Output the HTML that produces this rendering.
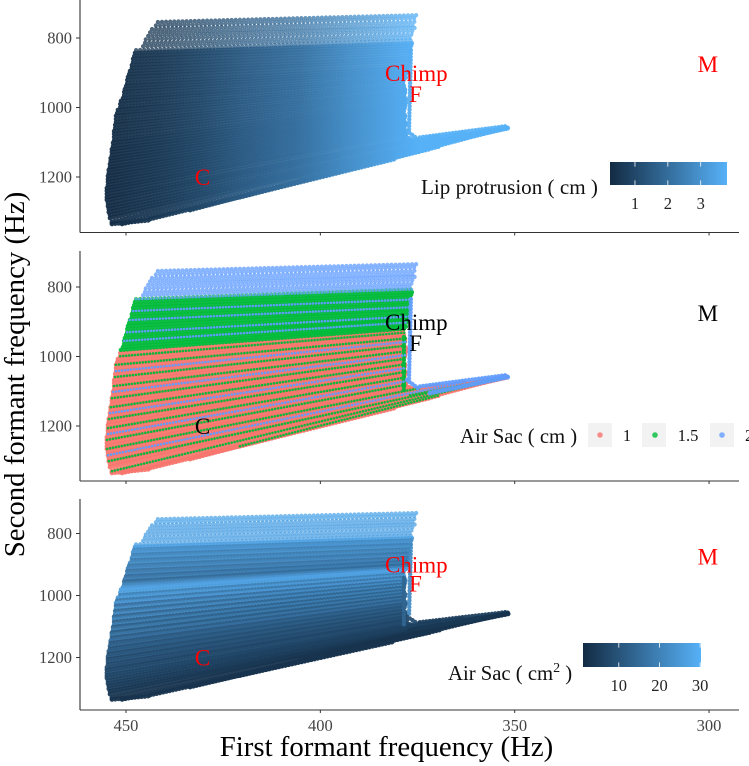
<!DOCTYPE html>
<html lang="en">
<head>
<meta charset="utf-8">
<title>Formant frequency chart</title>
<style>
  html, body { margin: 0; padding: 0; background: #fff; overflow: hidden; }
  svg { display: block; }
  text { font-family: "Liberation Serif", serif; }
</style>
</head>
<body>
<svg id="chart" xmlns="http://www.w3.org/2000/svg" width="749" height="766" viewBox="0 0 749 766">
  <defs id="defs"></defs>
  <rect x="0" y="0" width="749" height="766" fill="#fff"></rect>
  <g id="panel-lip"></g>
  <g id="panel-class"></g>
  <g id="panel-area"></g>
  <text transform="translate(24,374.5) rotate(-90)" text-anchor="middle" font-size="28.8" fill="#000">Second formant frequency (Hz)</text>
  <text x="386.5" y="756" text-anchor="middle" font-size="28.8" fill="#000">First formant frequency (Hz)</text>

  <text x="421" y="194" font-size="21.1" fill="#111">Lip protrusion ( cm )</text>
  <text x="460" y="443" font-size="20.7" fill="#111">Air Sac ( cm )</text>
  <text x="448" y="680" font-size="20.7" fill="#111">Air Sac ( cm<tspan dy="-8" font-size="14">2</tspan><tspan dy="8"> )</tspan></text>

  <rect x="588" y="423" width="24" height="24" fill="#f2f2f2"></rect>
  <circle cx="600" cy="435" r="2.8" fill="#F8766D" fill-opacity="0.8"></circle>
  <text x="627" y="441" text-anchor="middle" font-size="16.5" fill="#111">1</text>
  <rect x="642" y="423" width="24" height="24" fill="#f2f2f2"></rect>
  <circle cx="655" cy="435" r="2.8" fill="#00BA38" fill-opacity="0.8"></circle>
  <text x="688" y="441" text-anchor="middle" font-size="16.5" fill="#111">1.5</text>
  <rect x="710" y="423" width="24" height="24" fill="#f2f2f2"></rect>
  <circle cx="722" cy="435" r="2.8" fill="#619CFF" fill-opacity="0.8"></circle>
  <text x="745" y="441" font-size="16.5" fill="#111">2</text>
</svg>
<script>
// Hz values: each scatter row runs from a start to an end point.
const rowF1Start = [
441.8,442.3,443.3,443.8,444.3,444.9,445.1,445.6,447.4,447.7,
447.9,448.2,448.2,448.5,448.5,449,449.2,449.5,449.7,449.7,
450,450.3,450.5,450.5,450.8,451.3,451.5,451.5,452.1,452.3,
452.6,452.6,452.6,452.8,452.8,453.1,453.1,453.1,453.1,453.3,
453.3,453.6,453.6,453.6,453.9,453.9,454.1,454.1,454.4,454.4,
454.6,454.6,454.6,454.6,454.9,454.9,454.9,454.9,454.9,454.6,
454.6,454.4,454.4,454.1,454.1,453.6,451,443.8,433.5,405.2,
383.4,376.7,377.7,374.4,371.8,378.5,376.9,420.7,453.6];
const rowF2Start = [
754,764,774,784,794,804,814,824,835,843,
852,860,869,878,886,895,904,912,921,930,
938,947,955,964,973,981,990,999,1007,1016,
1024,1033,1042,1050,1059,1068,1076,1085,1094,1102,
1111,1120,1128,1137,1146,1154,1163,1172,1180,1189,
1197,1206,1214,1223,1232,1240,1249,1258,1266,1275,
1284,1292,1301,1309,1318,1330,1335,1321,1295,1209,
1151,835,1068,1086,1105,944,1111,1258,1335];
const rowF1End = [
374.6,374.9,375.1,375.4,375.6,375.9,376.2,376.2,376.4,376.4,
376.4,376.7,376.7,376.7,376.9,376.9,376.9,376.9,377.2,377.2,
377.2,377.4,377.4,377.7,377.7,377.7,378,378,378,378,
378,378,378,378,378,378,378,378,378,378,
378,378,378,378,378,378,378,378,378,378,
378,378,378,378,378,377.7,377.2,376.4,374.4,369.2,
362.8,356.3,351.7,351.7,351.7,351.7,405.2,380.8,405.2,371.8,
351.7,377.2,374.9,351.7,351.7,378.5,358.9,369.2,443.8];
const rowF2End = [
734,743,753,763,771,780,790,799,807,815,
822,829,836,843,851,858,864,871,879,885,
891,896,902,908,914,919,925,931,937,942,
948,954,958,964,969,974,980,985,990,996,
1001,1006,1012,1017,1022,1028,1033,1038,1044,1049,
1054,1060,1065,1071,1076,1081,1088,1092,1091,1082,
1073,1065,1056,1059,1059,1058,1213,1148,1212,1119,
1056,1068,1091,1053,1059,1099,1073,1111,1324];
const rowAirSacClass = [
2,2,2,2,2,2,2,2,2,
1.5,1.5,1.5,2,1.5,1.5,2,1.5,1.5,1.5,2,1.5,1.5,2,1.5,1.5,1.5,
1,1.5,1,1,1.5,1,2,1,1.5,1,
1,1.5,1,2,1,1.5,1,1,1.5,1,
2,1,1.5,1,1,1.5,1,2,1,1.5,
1,1,1.5,1,2,1,1.5,1,1,1.5,
1,1,1,1,1,
2,2,2,2,1.5,1.5,1.5,1];
const rowAirSacArea = [
28,28,27,27,27,27,27,27,27,
27,22,24,20,23,19,22,18,21,17,20,16,19,15,20,24,27,
26,20,25,18,24,16,22,15,21,14,
20,13,19,13,18,12,17,12,16,11,
13,10,12,9,11,8,10,8,9,7,
8,7,7,6,6,5,5,4,4,3,
3,3,3,3,3,
22,8,5,3,14,4,3,3];
// Lip protrusion (cm) read along first formant frequency.
const lipKnotF1 = [453.6,441.3,431,418.1,405.2,392.4,379.5,374.4,351.7];
const lipKnotCm = [0.3,0.6,1.0,1.6,2.1,2.9,3.6,3.8,3.8];
const classLevels = [1,1.5,2];
const classColors = ['#F8766D','#00BA38','#619CFF'];
const xTickValues = [450,400,350,300];
const yTickValues = [800,1000,1200];
const annotationLabels = ['C','Chimp','F','M'];
const annotationF1 = [430.3,375.3,375.5,300.3];
const annotationF2 = [1203,903,964,878];
const lipLegendTicks = [1,2,3];
const areaLegendTicks = [10,20,30];
const lipDomain = [0.24,3.8];
const areaDomain = [1.2,30.2];

const NS = 'http://www.w3.org/2000/svg';
const chart = document.getElementById('chart');
const defs = document.getElementById('defs');
const xAxisLeft = 80;
const xAxisRight = 739;
const xScale = f1 => 126 + (450 - f1) * 3.887;
const panels = [
  { id: 'panel-lip', top: 0, bottom: 232.5, y800: 38, k: 0.3475, ink: '#ff0000', tickLabels: false },
  { id: 'panel-class', top: 251, bottom: 481, y800: 287, k: 0.3475, ink: '#000000', tickLabels: false },
  { id: 'panel-area', top: 499, bottom: 710, y800: 533.5, k: 0.31, ink: '#ff0000', tickLabels: true }
];
const yScale = (panel, f2) => panel.y800 + (f2 - 800) * panel.k;

function shade(t) {
  const a = [19,43,67], b = [86,177,247];
  const c = Math.max(0, Math.min(1, t));
  const v = a.map((s, i) => Math.round(s + (b[i] - s) * c));
  return 'rgb(' + v.join(',') + ')';
}
const lipColor = v => shade((v - lipDomain[0]) / (lipDomain[1] - lipDomain[0]));
const areaColor = v => shade((v - areaDomain[0]) / (areaDomain[1] - areaDomain[0]));

function svgEl(tag, attrs, parent) {
  const el = document.createElementNS(NS, tag);
  Object.keys(attrs).forEach(k => el.setAttribute(k, attrs[k]));
  parent.appendChild(el);
  return el;
}

// shared gradient: lip protrusion along the x axis
const lipGrad = svgEl('linearGradient', { id: 'lip-gradient', gradientUnits: 'userSpaceOnUse',
  x1: xScale(lipKnotF1[0]), y1: 0, x2: xScale(lipKnotF1[lipKnotF1.length - 1]), y2: 0 }, defs);
lipKnotF1.forEach((f, i) => {
  const off = (xScale(f) - xScale(lipKnotF1[0])) / (xScale(lipKnotF1[lipKnotF1.length - 1]) - xScale(lipKnotF1[0]));
  svgEl('stop', { offset: off, 'stop-color': lipColor(lipKnotCm[i]) }, lipGrad);
});
const legendGrad = svgEl('linearGradient', { id: 'legend-gradient', x1: 0, y1: 0, x2: 1, y2: 0 }, defs);
svgEl('stop', { offset: 0, 'stop-color': shade(0) }, legendGrad);
svgEl('stop', { offset: 1, 'stop-color': shade(1) }, legendGrad);

function drawRow(group, panel, i, stroke, thin) {
  const top = i < 9;
  const open = rowF2Start[i] < 1100;
  const p = svgEl('path', {
    d: 'M' + xScale(rowF1Start[i]).toFixed(1) + ' ' + yScale(panel, rowF2Start[i]).toFixed(1) +
       'L' + xScale(rowF1End[i]).toFixed(1) + ' ' + yScale(panel, rowF2End[i]).toFixed(1),
    fill: 'none', stroke: stroke, 'stroke-linecap': 'round',
    'stroke-width': thin ? 2.6 : (top ? 4.3 : (open ? 4.4 : 4.9)),
    'stroke-dasharray': thin ? '0 3' : (top ? '0 4.1' : '0 3.3'),
    'stroke-opacity': top ? 0.76 : 0.94
  }, group);
  
  
}

function drawAxes(group, panel) {
  const yLine = svgEl('line', { x1: xAxisLeft, x2: xAxisLeft, y1: panel.top, y2: panel.bottom, stroke: '#333', 'stroke-width': 1.1 }, group);
  
  
  const xLine = svgEl('line', { x1: xAxisLeft, x2: xAxisRight, y1: panel.bottom, y2: panel.bottom, stroke: '#333', 'stroke-width': 1.1 }, group);
  
  
  yTickValues.forEach(v => {
    const y = yScale(panel, v);
    const tick = svgEl('line', { x1: xAxisLeft - 4, x2: xAxisLeft, y1: y, y2: y, stroke: '#333', 'stroke-width': 1 }, group);
    
    
    const label = svgEl('text', { x: 72, y: y + 5.5, 'text-anchor': 'end', 'font-size': 16.5, fill: '#444' }, group);
    
    
    label.textContent = v;
  });
  xTickValues.forEach(v => {
    const x = xScale(v);
    const tick = svgEl('line', { x1: x, x2: x, y1: panel.bottom, y2: panel.bottom + 3, stroke: '#333', 'stroke-width': 1 }, group);
    
    
    if (panel.tickLabels) {
      const label = svgEl('text', { x: x, y: panel.bottom + 21, 'text-anchor': 'middle', 'font-size': 16.5, fill: '#444' }, group);
      
      
      label.textContent = v;
    }
  });
}

function drawAnnotations(group, panel) {
  annotationLabels.forEach((t, i) => {
    const el = svgEl('text', { x: xScale(annotationF1[i]), y: yScale(panel, annotationF2[i]) + 7, 'text-anchor': 'middle', 'font-size': 23, fill: panel.ink }, group);
    
    
    el.textContent = t;
  });
}

function drawColorbar(group, x0, x1, y0, y1, ticks, domain, labelY) {
  const bar = svgEl('rect', { x: x0, y: y0, width: x1 - x0, height: y1 - y0, fill: 'url(#legend-gradient)' }, group);
  
  
  ticks.forEach(v => {
    const x = x0 + (v - domain[0]) / (domain[1] - domain[0]) * (x1 - x0);
    const a = svgEl('line', { x1: x, x2: x, y1: y0, y2: y0 + 4.6, stroke: '#fff', 'stroke-width': 0.8 }, group);
    
    
    const b = svgEl('line', { x1: x, x2: x, y1: y1 - 4.6, y2: y1, stroke: '#fff', 'stroke-width': 0.8 }, group);
    
    
    const label = svgEl('text', { x: x, y: labelY, 'text-anchor': 'middle', 'font-size': 16.5, fill: '#222' }, group);
    
    
    label.textContent = v;
  });
}

const rowOrder = rowF1Start.map((_, i) => i);
const classRank = v => (v === 1 ? 0 : v === 1.5 ? 1 : 2);
const rowSpan = i => rowF1Start[i] - rowF1End[i];
const isThinRow = i => {
  const c = rowAirSacClass[i];
  if (c === 2) return rowSpan(i) > 40 && rowF2Start[i] >= 835;
  if (c === 1.5) return rowSpan(i) > 15 && rowF2Start[i] >= 985;
  return false;
};

// top panel: colour follows lip protrusion along x
const g1 = document.getElementById(panels[0].id);
rowOrder.forEach(i => drawRow(g1, panels[0], i, 'url(#lip-gradient)', false));
drawAxes(g1, panels[0]);
drawAnnotations(g1, panels[0]);
drawColorbar(g1, 610, 727, 162, 185, lipLegendTicks, lipDomain, 209);

// middle panel: colour follows air sac class; narrow stripes sit on the dominant class beneath them
const g2 = document.getElementById(panels[1].id);
rowOrder.filter(i => isThinRow(i) && rowSpan(i) > 40).forEach(i => {
  const under = rowF2Start[i] >= 985 ? classColors[0] : classColors[1];
  drawRow(g2, panels[1], i, under, false);
});
rowOrder.slice().sort((a, b) => classRank(rowAirSacClass[a]) - classRank(rowAirSacClass[b]) || a - b).forEach(i => {
  drawRow(g2, panels[1], i, classColors[classLevels.indexOf(rowAirSacClass[i])], isThinRow(i));
});
drawAxes(g2, panels[1]);
drawAnnotations(g2, panels[1]);

// bottom panel: colour follows air sac area by row
const g3 = document.getElementById(panels[2].id);
rowOrder.forEach(i => drawRow(g3, panels[2], i, areaColor(rowAirSacArea[i]), false));
drawAxes(g3, panels[2]);
drawAnnotations(g3, panels[2]);
drawColorbar(g3, 583, 701, 643, 667, areaLegendTicks, areaDomain, 691);
</script>
</body>
</html>
